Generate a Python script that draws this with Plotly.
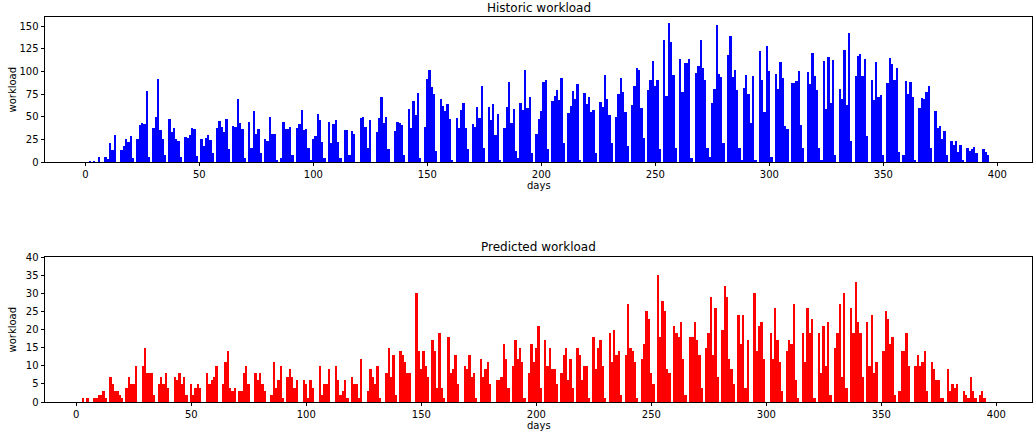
import plotly.graph_objects as go

# ---- Historic workload (day -> value, days not listed are 0) ----
hist_days = [2, 4, 6, 9, 10, 11, 12, 13, 16, 17, 18, 19, 20, 21, 23, 24, 25, 26, 27, 28,
             30, 31, 32, 33, 34, 35, 37, 38, 39, 40, 41, 42, 44, 45, 46, 47, 48, 49,
             51, 52, 53, 54, 55, 56, 58, 59, 60, 61, 62, 63, 65, 66, 67, 68, 69, 70,
             72, 73, 74, 75, 76, 77, 79, 80, 81, 82, 83, 84, 86, 87, 88, 89, 90, 91,
             93, 94, 95, 96, 97, 98, 99, 100, 101, 102, 103, 104, 105, 107, 108, 109, 110, 111, 112,
             114, 115, 116, 117, 118, 121, 122, 123, 124, 125, 128, 129, 130, 131, 132, 133,
             136, 137, 138, 139, 140, 142, 143, 144, 145, 146, 147, 149, 150, 151, 152, 153, 154,
             156, 157, 158, 159, 160, 161, 163, 164, 165, 166, 167, 168, 170, 171, 172, 173, 174, 175,
             177, 178, 179, 180, 181, 182, 184, 185, 186, 187, 188, 189, 190, 191, 192, 193, 194, 195, 196,
             198, 199, 200, 201, 202, 203, 205, 206, 207, 208, 209, 210, 212, 213, 214, 215, 216, 217,
             219, 220, 221, 222, 223, 224, 226, 227, 228, 229, 230, 231, 233, 234, 235, 236, 237, 238,
             240, 241, 242, 243, 244, 245, 247, 248, 249, 250, 251, 252, 254, 255, 256, 257, 258, 259,
             261, 262, 263, 264, 265, 266, 268, 269, 270, 271, 272, 273, 274, 275, 276, 277, 278, 279, 280,
             282, 283, 284, 285, 286, 287, 288, 289, 290, 291, 292, 293, 294, 296, 297, 298, 299, 300, 301,
             303, 304, 305, 306, 307, 308, 310, 311, 312, 313, 314, 315, 317, 318, 319, 320, 321, 322, 323,
             324, 325, 326, 327, 328, 329, 331, 332, 333, 334, 335, 336, 338, 339, 340, 341, 342, 343,
             345, 346, 347, 348, 349, 350, 352, 353, 354, 355, 356, 357, 359, 360, 361, 362, 363, 364,
             366, 367, 368, 369, 370, 371, 373, 374, 375, 376, 377, 378, 380, 381, 382, 383, 384, 385,
             387, 388, 389, 390, 391, 394, 395, 396]
hist_values = [1, 1, 6, 6, 3, 21, 13, 30, 13, 18, 25, 22, 29, 4, 25, 41, 43, 42, 78, 6,
               38, 50, 92, 35, 25, 8, 48, 33, 37, 25, 23, 6, 28, 26, 30, 37, 36, 7,
               25, 18, 27, 30, 24, 10, 37, 45, 39, 33, 47, 14, 40, 39, 70, 43, 36, 4,
               44, 16, 56, 31, 36, 10, 25, 23, 50, 31, 31, 2, 4, 44, 36, 36, 39, 8,
               38, 42, 57, 35, 36, 15, 2, 25, 29, 53, 46, 22, 4, 44, 21, 42, 46, 22, 4,
               35, 35, 8, 34, 31, 49, 50, 39, 16, 46, 33, 49, 72, 43, 50, 14,
               34, 44, 43, 41, 8, 58, 37, 67, 52, 76, 4, 39, 92, 102, 83, 75, 12,
               70, 62, 56, 64, 48, 2, 49, 37, 57, 65, 38, 14, 42, 39, 61, 49, 84, 15,
               61, 46, 64, 30, 53, 2, 37, 61, 88, 43, 59, 12, 4, 65, 57, 102, 60, 72, 10,
               31, 48, 56, 88, 90, 14, 67, 73, 79, 68, 93, 21, 54, 62, 78, 69, 86, 2,
               76, 64, 72, 55, 57, 10, 66, 61, 96, 70, 52, 21, 50, 75, 93, 77, 55, 18,
               63, 84, 104, 101, 60, 26, 80, 91, 112, 84, 90, 14, 135, 73, 153, 132, 96, 15,
               114, 77, 109, 109, 114, 4, 98, 106, 135, 104, 91, 15, 5, 65, 81, 151, 97, 94, 21,
               118, 139, 94, 102, 80, 16, 2, 82, 96, 75, 43, 95, 2, 123, 90, 55, 128, 100, 6,
               97, 81, 110, 93, 40, 36, 87, 87, 89, 100, 41, 16, 99, 86, 120, 95, 80, 15, 2,
               111, 59, 116, 65, 113, 8, 81, 70, 124, 63, 142, 23, 95, 117, 119, 95, 114, 29,
               90, 68, 110, 72, 74, 8, 87, 115, 108, 91, 104, 11, 8, 89, 75, 88, 72, 2,
               60, 71, 69, 77, 84, 16, 56, 38, 40, 25, 34, 8, 23, 19, 23, 11, 19, 2,
               16, 12, 14, 17, 10, 14, 11, 8]

# ---- Predicted workload (day -> value, days not listed are 0) ----
pred_days = [3, 5, 8, 9, 10, 11, 12, 13, 15, 16, 17, 18, 19, 20, 22, 23, 24, 25, 26,
             29, 30, 31, 32, 33, 34, 36, 37, 38, 39, 40, 43, 44, 45, 46, 47, 48,
             50, 51, 52, 53, 54, 57, 58, 59, 60, 61, 64, 65, 66, 67, 68, 69,
             71, 72, 73, 74, 75, 78, 79, 80, 81, 82, 85, 86, 87, 88, 89, 90,
             92, 93, 94, 95, 96, 99, 100, 101, 102, 103, 106, 107, 108, 109, 110,
             113, 114, 115, 116, 117, 118, 120, 121, 122, 123, 124, 127, 128, 129, 130, 131, 132,
             135, 136, 137, 138, 139, 141, 142, 143, 144, 145, 148, 149, 150, 151, 152, 153,
             155, 156, 157, 158, 159, 160, 162, 163, 164, 165, 166, 169, 170, 171, 172, 173, 174,
             176, 177, 178, 179, 180, 183, 184, 185, 186, 187, 188, 190, 191, 192, 193, 194, 195,
             197, 198, 199, 200, 201, 202, 204, 205, 206, 207, 208, 209, 211, 212, 213, 214, 215, 216,
             218, 219, 220, 221, 222, 223, 225, 226, 227, 228, 229, 230, 232, 233, 234, 235, 236, 237,
             239, 240, 241, 242, 243, 244, 246, 247, 248, 249, 250, 251, 253, 254, 255, 256, 257, 258,
             260, 261, 262, 263, 264, 265, 267, 268, 269, 270, 271, 272, 274, 275, 276, 277, 278, 279,
             281, 282, 283, 284, 285, 286, 288, 289, 290, 291, 292, 295, 296, 297, 298, 299,
             302, 303, 304, 305, 306, 307, 309, 310, 311, 312, 313, 314, 316, 317, 318, 319, 320, 321,
             323, 324, 325, 326, 327, 328, 330, 331, 332, 333, 334, 335, 337, 338, 339, 340, 341, 342,
             344, 345, 346, 347, 348, 351, 352, 353, 354, 355, 356, 358, 359, 360, 361, 362,
             365, 366, 367, 368, 369, 370, 372, 373, 374, 375, 376, 377, 379, 380, 381, 382, 383,
             386, 387, 388, 389, 390, 391, 393, 394, 395]
pred_values = [1, 1, 1, 1, 2, 2, 3, 1, 7, 5, 3, 3, 2, 1, 4, 7, 5, 5, 10,
               10, 15, 8, 8, 8, 2, 5, 7, 5, 8, 4, 7, 6, 8, 5, 7, 2,
               5, 2, 4, 5, 4, 8, 5, 6, 7, 10, 5, 11, 14, 4, 3, 4,
               3, 3, 8, 10, 5, 8, 6, 8, 5, 3, 2, 11, 4, 6, 10, 1,
               7, 9, 7, 4, 6, 6, 5, 1, 6, 4, 10, 2, 5, 5, 9,
               10, 6, 2, 3, 6, 1, 7, 5, 5, 1, 12, 3, 9, 7, 5, 10, 1,
               8, 15, 7, 13, 2, 14, 13, 11, 8, 8, 30, 14, 9, 14, 10, 7,
               17, 14, 4, 19, 4, 1, 18, 8, 9, 13, 5, 10, 9, 13, 7, 8, 1,
               12, 7, 9, 11, 5, 6, 6, 7, 16, 12, 4, 10, 17, 12, 15, 11, 1,
               8, 16, 11, 15, 21, 4, 17, 10, 15, 9, 9, 5, 8, 13, 15, 6, 12, 4,
               15, 13, 6, 10, 10, 1, 18, 9, 15, 17, 10, 1, 19, 11, 20, 13, 14, 2,
               13, 27, 15, 14, 11, 1, 12, 16, 25, 23, 8, 5, 35, 18, 28, 25, 9, 8,
               21, 19, 18, 22, 12, 2, 18, 18, 22, 17, 13, 4, 15, 19, 29, 13, 26, 7,
               20, 32, 29, 12, 9, 5, 24, 16, 24, 4, 17, 30, 14, 21, 22, 12,
               19, 12, 26, 17, 11, 3, 14, 17, 16, 27, 6, 1, 19, 11, 26, 19, 23, 1,
               19, 8, 21, 10, 22, 2, 15, 19, 27, 7, 30, 4, 26, 19, 33, 22, 19, 7,
               22, 10, 24, 8, 11, 14, 25, 23, 16, 18, 2, 3, 14, 14, 19, 10,
               10, 13, 10, 11, 14, 3, 11, 9, 6, 6, 1, 1, 9, 3, 5, 4, 5,
               3, 2, 1, 7, 3, 1, 2, 3, 1]

hist_yticks = [0, 25, 50, 75, 100, 125, 150]
pred_yticks = [0, 5, 10, 15, 20, 25, 30, 35, 40]
day_ticks = [0, 50, 100, 150, 200, 250, 300, 350, 400]

W, H = 1035, 435
L, R = 45, 1032
top_y0, top_y1 = 17, 162
bot_y0, bot_y1 = 257, 402

FONT = "DejaVu Sans"

fig = go.Figure()
fig.add_trace(go.Bar(x=hist_days, y=hist_values, width=0.8,
                     marker=dict(color="#0000ff", line=dict(width=0)),
                     xaxis="x", yaxis="y", showlegend=False))
fig.add_trace(go.Bar(x=pred_days, y=pred_values, width=0.8,
                     marker=dict(color="#ff0000", line=dict(width=0)),
                     xaxis="x2", yaxis="y2", showlegend=False))

axis_common = dict(showline=True, mirror=True, linecolor="#000000", linewidth=0.8,
                   ticks="outside", ticklen=3.5, tickwidth=0.8, tickcolor="#000000",
                   showgrid=False, zeroline=False, automargin=False,
                   tickfont=dict(family=FONT, size=10, color="#000000"))

fig.update_layout(
    template="none",
    width=W, height=H, autosize=False,
    margin=dict(l=0, r=0, t=0, b=0, pad=0),
    paper_bgcolor="white", plot_bgcolor="white",
    xaxis=dict(domain=[L / W, R / W], anchor="y", range=[-17.7, 415.2],
               tickvals=day_ticks, **axis_common),
    yaxis=dict(domain=[1 - top_y1 / H, 1 - top_y0 / H], anchor="x", range=[0, 160],
               tickvals=hist_yticks, **axis_common),
    xaxis2=dict(domain=[L / W, R / W], anchor="y2", range=[-13.6, 415.5],
                tickvals=day_ticks, **axis_common),
    yaxis2=dict(domain=[1 - bot_y1 / H, 1 - bot_y0 / H], anchor="x2", range=[0, 40],
                tickvals=pred_yticks, **axis_common),
    bargap=0,
)

cx = (L + R) / 2 / W
ann = [
    dict(text="Historic workload", x=cx, y=1 - 8 / H, size=12, angle=0),
    dict(text="Predicted workload", x=cx, y=1 - 247 / H, size=12, angle=0),
    dict(text="days", x=cx, y=1 - 185 / H, size=10, angle=0),
    dict(text="days", x=cx, y=1 - 425 / H, size=10, angle=0),
    dict(text="workload", x=12 / W, y=1 - (top_y0 + top_y1) / 2 / H, size=10, angle=-90),
    dict(text="workload", x=12 / W, y=1 - (bot_y0 + bot_y1) / 2 / H, size=10, angle=-90),
]
for a in ann:
    fig.add_annotation(text=a["text"], x=a["x"], y=a["y"], xref="paper", yref="paper",
                       xanchor="center", yanchor="middle", showarrow=False, textangle=a["angle"],
                       font=dict(family=FONT, size=a["size"], color="#000000"))

fig.write_html("out.html",
               config={"displayModeBar": False},
               post_script="document.body.style.margin='0';document.body.style.overflow='hidden';")
